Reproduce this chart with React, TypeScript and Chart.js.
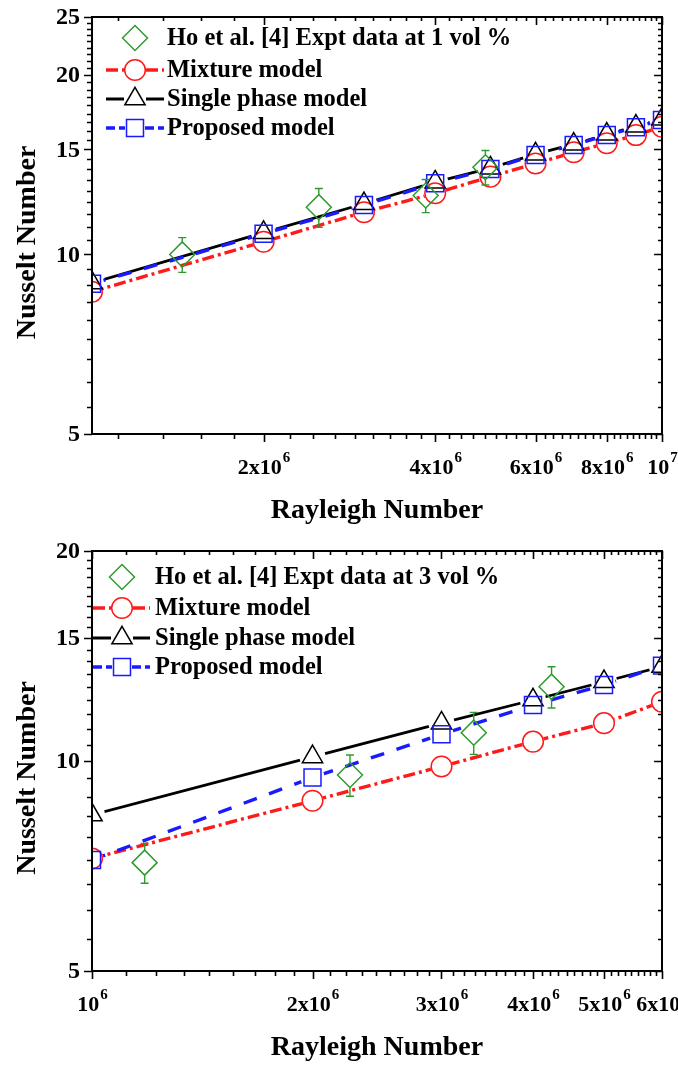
import { useEffect, useRef } from "react";
import { Chart, registerables } from "chart.js";

Chart.register(...registerables);

// ---- 1 vol % panel ----
const raModel1 = [1e6, 2e6, 3e6, 4e6, 5e6, 6e6, 7e6, 8e6, 9e6, 1e7];
const nuMixture1 = [8.66, 10.5, 11.77, 12.66, 13.5, 14.2, 14.83, 15.36, 15.85, 16.37];
const nuSingle1 = [8.96, 10.88, 12.16, 13.22, 13.95, 14.73, 15.3, 15.9, 16.4, 16.86];
const nuProposed1 = [8.93, 10.83, 12.1, 13.16, 13.9, 14.68, 15.25, 15.85, 16.34, 16.8];
const raExpt1 = [1.44e6, 2.5e6, 3.85e6, 4.9e6];
const nuExpt1 = [10.0, 12.0, 12.55, 14.0];
const errExpt1 = [0.67, 0.9, 0.8, 0.93];
const xMajor1 = [2e6, 4e6, 6e6, 8e6, 1e7];
const xLabels1: [string, string][] = [["2x10", "6"], ["4x10", "6"], ["6x10", "6"], ["8x10", "6"], ["10", "7"]];
const yMajor1 = [5, 10, 15, 20, 25];

// ---- 3 vol % panel ----
const raModel3 = [1e6, 2e6, 3e6, 4e6, 5e6, 6e6];
const nuMixture3 = [7.25, 8.77, 9.82, 10.66, 11.33, 12.16];
const nuSingle3 = [8.37, 10.14, 11.33, 12.23, 12.99, 13.66];
const nuProposed3 = [7.21, 9.47, 10.92, 12.03, 12.85, 13.7];
const raExpt3 = [1.18e6, 2.25e6, 3.32e6, 4.24e6];
const nuExpt3 = [7.15, 9.55, 10.98, 12.78];
const errExpt3 = [0.47, 0.65, 0.76, 0.87];
const xMajor3 = [1e6, 2e6, 3e6, 4e6, 5e6, 6e6];
const xLabels3: [string, string][] = [["10", "6"], ["2x10", "6"], ["3x10", "6"], ["4x10", "6"], ["5x10", "6"], ["6x10", "6"]];
const yMajor3 = [5, 10, 15, 20];

const seriesNames = ["Mixture model", "Single phase model", "Proposed model"];

const FONT = '"Liberation Serif", "Times New Roman", serif';
const RED = "#ff1a1a";
const BLUE = "#1a1aff";
const BLACK = "#000000";
const GREEN = "#2f9a2f";

const R_CIRCLE = 10.3;
const R_TRI = 11.7;
const R_RECT = 12;
const R_DIAMOND = 12.5;

const DASH_MIX = [12, 4, 3, 4];
const DASH_PROP = [14, 13];

type Panel = {
  raModel: number[];
  mixture: number[];
  single: number[];
  proposed: number[];
  raExpt: number[];
  expt: number[];
  err: number[];
  xMin: number;
  xMax: number;
  yMin: number;
  yMax: number;
  xMajor: number[];
  xLabels: [string, string][];
  xMinorStep: number;
  yMajor: number[];
  yMinorStep: number;
  exptLabel: string;
  height: number;
  padding: { left: number; right: number; top: number; bottom: number };
  legend: { rows: number[]; lineX0: number; lineX1: number; markX: number; textX: number };
};

const panels: Panel[] = [
  {
    raModel: raModel1,
    mixture: nuMixture1,
    single: nuSingle1,
    proposed: nuProposed1,
    raExpt: raExpt1,
    expt: nuExpt1,
    err: errExpt1,
    xMin: 1e6,
    xMax: 1e7,
    yMin: 5,
    yMax: 25,
    xMajor: xMajor1,
    xLabels: xLabels1,
    xMinorStep: 2e6 / 9,
    yMajor: yMajor1,
    yMinorStep: 5 / 9,
    exptLabel: "Ho et al. [4] Expt data at 1 vol %",
    height: 530,
    padding: { left: 92, right: 16, top: 17, bottom: 96 },
    legend: { rows: [38, 70, 99, 128], lineX0: 106, lineX1: 164, markX: 135, textX: 167 },
  },
  {
    raModel: raModel3,
    mixture: nuMixture3,
    single: nuSingle3,
    proposed: nuProposed3,
    raExpt: raExpt3,
    expt: nuExpt3,
    err: errExpt3,
    xMin: 1e6,
    xMax: 6e6,
    yMin: 5,
    yMax: 20,
    xMajor: xMajor3,
    xLabels: xLabels3,
    xMinorStep: 1e6 / 9,
    yMajor: yMajor3,
    yMinorStep: 5 / 9,
    exptLabel: "Ho et al. [4] Expt data at 3 vol %",
    height: 535,
    padding: { left: 92, right: 16, top: 21, bottom: 94 },
    legend: { rows: [47, 78, 108, 137], lineX0: 93, lineX1: 150, markX: 122, textX: 155 },
  },
];

function minorValues(min: number, max: number, step: number, majors: number[]) {
  const out: number[] = [];
  for (let k = Math.ceil(min / step - 1e-9); k * step <= max * (1 + 1e-9); k++) {
    const v = k * step;
    if (majors.some((m) => Math.abs(v - m) / m < 1e-6)) continue;
    out.push(v);
  }
  return out;
}

function markerPath(ctx: CanvasRenderingContext2D, style: string, x: number, y: number, r: number) {
  ctx.beginPath();
  if (style === "circle") {
    ctx.arc(x, y, r, 0, Math.PI * 2);
  } else if (style === "triangle") {
    let a = 0;
    ctx.moveTo(x + Math.sin(a) * r, y - Math.cos(a) * r);
    a += (2 * Math.PI) / 3;
    ctx.lineTo(x + Math.sin(a) * r, y - Math.cos(a) * r);
    a += (2 * Math.PI) / 3;
    ctx.lineTo(x + Math.sin(a) * r, y - Math.cos(a) * r);
    ctx.closePath();
  } else if (style === "rect") {
    const s = Math.SQRT1_2 * r;
    ctx.rect(x - s, y - s, 2 * s, 2 * s);
  } else {
    ctx.moveTo(x - r, y);
    ctx.lineTo(x, y - r);
    ctx.lineTo(x + r, y);
    ctx.lineTo(x, y + r);
    ctx.closePath();
  }
}

function makeDecorPlugin(p: Panel) {
  return {
    id: "decor",
    // leave a small gap in each model line around its own markers
    beforeDatasetDraw(chart: any, args: any) {
      const ds = chart.data.datasets[args.index];
      if (!ds.gapRadius) return;
      const meta = chart.getDatasetMeta(args.index);
      const ctx: CanvasRenderingContext2D = chart.ctx;
      ctx.save();
      ctx.beginPath();
      ctx.rect(0, 0, chart.width, chart.height);
      for (const el of meta.data) {
        ctx.moveTo(el.x + ds.gapRadius, el.y);
        ctx.arc(el.x, el.y, ds.gapRadius, 0, Math.PI * 2);
      }
      ctx.clip("evenodd");
    },
    afterDatasetDraw(chart: any, args: any) {
      const ds = chart.data.datasets[args.index];
      if (ds.gapRadius) chart.ctx.restore();
    },
    afterDatasetsDraw(chart: any) {
      // error bars on the experimental points
      const ctx: CanvasRenderingContext2D = chart.ctx;
      const xs = chart.scales.x;
      const ys = chart.scales.y;
      const a = chart.chartArea;
      ctx.save();
      ctx.beginPath();
      ctx.rect(a.left, a.top, a.right - a.left, a.bottom - a.top);
      ctx.clip();
      ctx.strokeStyle = GREEN;
      ctx.lineWidth = 1.4;
      p.raExpt.forEach((ra, i) => {
        const px = xs.getPixelForValue(ra);
        const py = ys.getPixelForValue(p.expt[i]);
        const top = ys.getPixelForValue(p.expt[i] + p.err[i]);
        const bot = ys.getPixelForValue(p.expt[i] - p.err[i]);
        ctx.beginPath();
        if (top < py - R_DIAMOND) {
          ctx.moveTo(px, py - R_DIAMOND);
          ctx.lineTo(px, top);
        }
        if (bot > py + R_DIAMOND) {
          ctx.moveTo(px, py + R_DIAMOND);
          ctx.lineTo(px, bot);
        }
        ctx.moveTo(px - 4, top);
        ctx.lineTo(px + 4, top);
        ctx.moveTo(px - 4, bot);
        ctx.lineTo(px + 4, bot);
        ctx.stroke();
      });
      ctx.restore();
    },
    afterDraw(chart: any) {
      const ctx: CanvasRenderingContext2D = chart.ctx;
      const xs = chart.scales.x;
      const ys = chart.scales.y;
      const a = chart.chartArea;
      ctx.save();

      // frame
      ctx.strokeStyle = BLACK;
      ctx.lineWidth = 2;
      ctx.strokeRect(a.left, a.top, a.right - a.left, a.bottom - a.top);

      // ticks: outward on bottom/left, inward on top/right
      ctx.lineWidth = 1.6;
      ctx.beginPath();
      const xMinor = minorValues(p.xMin, p.xMax, p.xMinorStep, p.xMajor);
      const yMinor = minorValues(p.yMin, p.yMax, p.yMinorStep, p.yMajor);
      const xTick = (v: number, outLen: number, inLen: number) => {
        const px = Math.round(xs.getPixelForValue(v)) + 0.5;
        ctx.moveTo(px, a.bottom);
        ctx.lineTo(px, a.bottom + outLen);
        ctx.moveTo(px, a.top);
        ctx.lineTo(px, a.top + inLen);
      };
      const yTick = (v: number, outLen: number, inLen: number) => {
        const py = Math.round(ys.getPixelForValue(v)) + 0.5;
        ctx.moveTo(a.left, py);
        ctx.lineTo(a.left - outLen, py);
        ctx.moveTo(a.right, py);
        ctx.lineTo(a.right - inLen, py);
      };
      p.xMajor.forEach((v) => xTick(v, 8, 8));
      xMinor.forEach((v) => xTick(v, 5, 4));
      p.yMajor.forEach((v) => yTick(v, 8, 8));
      yMinor.forEach((v) => yTick(v, 5, 4));
      ctx.stroke();

      // tick labels
      ctx.fillStyle = BLACK;
      ctx.textBaseline = "alphabetic";
      ctx.textAlign = "left";
      const mainFont = `bold 22px ${FONT}`;
      const supFont = `bold 15px ${FONT}`;
      p.xMajor.forEach((v, i) => {
        const [base, sup] = p.xLabels[i];
        ctx.font = mainFont;
        const w1 = ctx.measureText(base).width;
        ctx.font = supFont;
        const w2 = ctx.measureText(sup).width;
        const px = xs.getPixelForValue(v);
        const x0 = px - (w1 + w2) / 2;
        const by = a.bottom + 40;
        ctx.font = mainFont;
        ctx.fillText(base, x0, by);
        ctx.font = supFont;
        ctx.fillText(sup, x0 + w1 + 1, by - 12);
      });
      ctx.font = `bold 24px ${FONT}`;
      ctx.textAlign = "right";
      ctx.textBaseline = "middle";
      p.yMajor.forEach((v) => {
        ctx.fillText(String(v), a.left - 12, ys.getPixelForValue(v) + 1);
      });

      // axis titles
      ctx.font = `bold 28px ${FONT}`;
      ctx.textAlign = "center";
      ctx.textBaseline = "alphabetic";
      ctx.fillText("Rayleigh Number", (a.left + a.right) / 2, a.bottom + 84);
      ctx.save();
      ctx.translate(35, (a.top + a.bottom) / 2 + 17);
      ctx.rotate(-Math.PI / 2);
      ctx.fillText("Nusselt Number", 0, 0);
      ctx.restore();

      // legend
      const L = p.legend;
      const entries = [
        { style: "rectRot", color: GREEN, r: R_DIAMOND, line: null as null | { color: string; dash: number[]; width: number; gap: number }, text: p.exptLabel },
        { style: "circle", color: RED, r: R_CIRCLE, line: { color: RED, dash: DASH_MIX, width: 3.4, gap: 11 }, text: seriesNames[0] },
        { style: "triangle", color: BLACK, r: R_TRI, line: { color: BLACK, dash: [], width: 2.8, gap: 11 }, text: seriesNames[1] },
        { style: "rect", color: BLUE, r: R_RECT, line: { color: BLUE, dash: [9, 4], width: 3.4, gap: 10 }, text: seriesNames[2] },
      ];
      entries.forEach((e, i) => {
        const y = L.rows[i];
        if (e.line) {
          ctx.save();
          ctx.strokeStyle = e.line.color;
          ctx.lineWidth = e.line.width;
          ctx.setLineDash(e.line.dash);
          ctx.beginPath();
          ctx.moveTo(L.lineX0, y);
          ctx.lineTo(L.markX - e.line.gap, y);
          ctx.moveTo(L.markX + e.line.gap, y);
          ctx.lineTo(L.lineX1, y);
          ctx.stroke();
          ctx.restore();
        }
        ctx.save();
        ctx.strokeStyle = e.color;
        ctx.lineWidth = 1.5;
        markerPath(ctx, e.style, L.markX, y, e.r);
        ctx.stroke();
        ctx.restore();
        ctx.font = `bold 24.5px ${FONT}`;
        ctx.textAlign = "left";
        ctx.textBaseline = "middle";
        ctx.fillStyle = BLACK;
        ctx.fillText(e.text, L.textX, y + 1);
      });

      ctx.restore();
    },
  };
}

function pts(xs: number[], ys: number[]) {
  return xs.map((x, i) => ({ x, y: ys[i] }));
}

function buildConfig(p: Panel): any {
  const lineBase = { pointRadius: 0, tension: 0, fill: false, clip: 0, borderCapStyle: "butt" };
  const markBase = { showLine: false, clip: 0, pointBackgroundColor: "rgba(0,0,0,0)", pointBorderWidth: 1.5 };
  // Chart.js paints the last dataset first, so markers come first here and the
  // lines (red, then black, then blue on top) are listed last.
  return {
    type: "line",
    data: {
      datasets: [
        { ...markBase, data: pts(p.raExpt, p.expt), pointStyle: "rectRot", pointRadius: R_DIAMOND, pointBorderColor: GREEN },
        { ...markBase, data: pts(p.raModel, p.proposed), pointStyle: "rect", pointRadius: R_RECT, pointBorderColor: BLUE },
        { ...markBase, data: pts(p.raModel, p.single), pointStyle: "triangle", pointRadius: R_TRI, pointBorderColor: BLACK },
        { ...markBase, data: pts(p.raModel, p.mixture), pointStyle: "circle", pointRadius: R_CIRCLE, pointBorderColor: RED },
        { ...lineBase, data: pts(p.raModel, p.proposed), borderColor: BLUE, borderWidth: 3.4, borderDash: DASH_PROP, gapRadius: 12 },
        { ...lineBase, data: pts(p.raModel, p.single), borderColor: BLACK, borderWidth: 2.8, gapRadius: 13 },
        { ...lineBase, data: pts(p.raModel, p.mixture), borderColor: RED, borderWidth: 3.4, borderDash: DASH_MIX, gapRadius: 11 },
      ],
    },
    options: {
      responsive: false,
      animation: false,
      devicePixelRatio: 1,
      events: [],
      layout: { padding: p.padding },
      plugins: { legend: { display: false }, tooltip: { enabled: false } },
      scales: {
        x: { type: "logarithmic", min: p.xMin, max: p.xMax, display: false },
        y: { type: "logarithmic", min: p.yMin, max: p.yMax, display: false },
      },
    },
    plugins: [makeDecorPlugin(p)],
  };
}

function PanelChart({ panel }: { panel: Panel }) {
  const ref = useRef<HTMLCanvasElement | null>(null);
  useEffect(() => {
    if (!ref.current) return;
    const chart = new Chart(ref.current, buildConfig(panel));
    return () => chart.destroy();
  }, [panel]);
  return <canvas ref={ref} width={678} height={panel.height} style={{ display: "block", width: 678, height: panel.height }} />;
}

export default function App() {
  return (
    <div style={{ position: "absolute", left: 0, top: 0, width: 678, height: 1065, background: "#ffffff", overflow: "hidden" }}>
      {panels.map((p, i) => (
        <PanelChart key={i} panel={p} />
      ))}
    </div>
  );
}
